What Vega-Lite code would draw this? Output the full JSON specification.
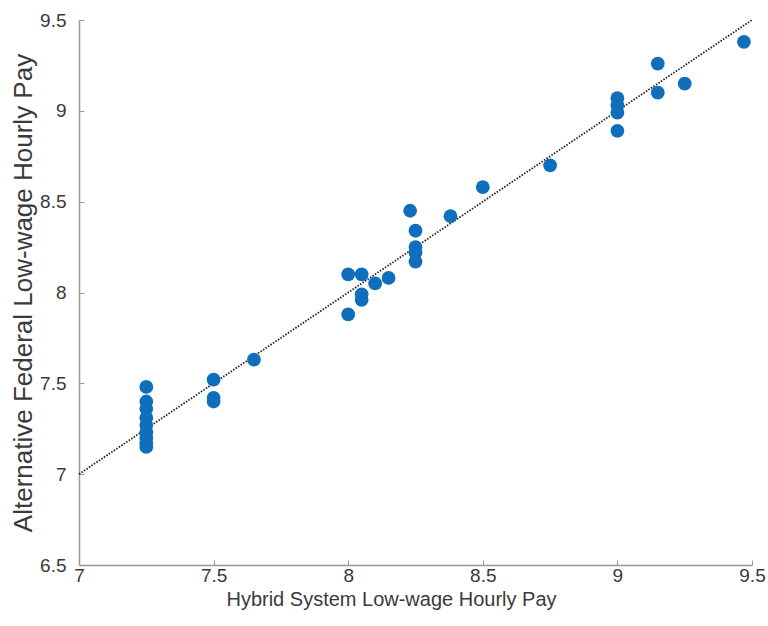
{
  "$schema": "https://vega.github.io/schema/vega-lite/v6.json",
  "width": 673,
  "height": 545,
  "autosize": "none",
  "padding": {"left": 79, "top": 20, "right": 16, "bottom": 61},
  "background": "white",
  "config": {
    "view": {"stroke": null},
    "font": "Liberation Sans",
    "axis": {
      "grid": false,
      "domainColor": "#999999",
      "domainWidth": 1.5,
      "tickColor": "#999999",
      "tickSize": -5,
      "labelColor": "#3a3a3a",
      "labelFontSize": 19,
      "titleColor": "#3a3a3a",
      "titleFontWeight": "normal"
    }
  },
  "datasets": {
    "pts": [
      {"h": 7.25, "a": 7.48}, {"h": 7.25, "a": 7.40}, {"h": 7.25, "a": 7.36},
      {"h": 7.25, "a": 7.31}, {"h": 7.25, "a": 7.27}, {"h": 7.25, "a": 7.23},
      {"h": 7.25, "a": 7.20}, {"h": 7.25, "a": 7.17}, {"h": 7.25, "a": 7.15},
      {"h": 7.5, "a": 7.52}, {"h": 7.5, "a": 7.42}, {"h": 7.5, "a": 7.40},
      {"h": 7.65, "a": 7.63},
      {"h": 8.0, "a": 8.10}, {"h": 8.0, "a": 7.88},
      {"h": 8.05, "a": 8.10}, {"h": 8.05, "a": 7.99}, {"h": 8.05, "a": 7.96},
      {"h": 8.1, "a": 8.05}, {"h": 8.15, "a": 8.08},
      {"h": 8.23, "a": 8.45},
      {"h": 8.25, "a": 8.34}, {"h": 8.25, "a": 8.25}, {"h": 8.25, "a": 8.22}, {"h": 8.25, "a": 8.17},
      {"h": 8.38, "a": 8.42},
      {"h": 8.5, "a": 8.58},
      {"h": 8.75, "a": 8.70},
      {"h": 9.0, "a": 9.07}, {"h": 9.0, "a": 9.03}, {"h": 9.0, "a": 8.99}, {"h": 9.0, "a": 8.89},
      {"h": 9.15, "a": 9.26}, {"h": 9.15, "a": 9.10},
      {"h": 9.25, "a": 9.15},
      {"h": 9.47, "a": 9.38}
    ],
    "diag": [{"h": 7, "a": 7}, {"h": 9.5, "a": 9.5}]
  },
  "layer": [
    {
      "data": {"name": "diag"},
      "mark": {"type": "line", "color": "#222222", "strokeDash": [1.5, 1.5], "strokeWidth": 1.8},
      "encoding": {
        "x": {"field": "h", "type": "quantitative"},
        "y": {"field": "a", "type": "quantitative"}
      }
    },
    {
      "data": {"name": "pts"},
      "mark": {"type": "circle", "color": "#0f6fbd", "opacity": 1, "size": 190},
      "encoding": {
        "x": {
          "field": "h", "type": "quantitative",
          "scale": {"domain": [7, 9.5], "nice": false, "zero": false},
          "axis": {"title": "Hybrid System Low-wage Hourly Pay", "format": "~g", "values": [7, 7.5, 8, 8.5, 9, 9.5], "labelPadding": 6, "titlePadding": 4, "titleFontSize": 20, "titleX": 312, "titleAlign": "center", "labelFlush": false}
        },
        "y": {
          "field": "a", "type": "quantitative",
          "scale": {"domain": [6.5, 9.5], "nice": false, "zero": false},
          "axis": {"title": "Alternative Federal Low-wage Hourly Pay", "format": "~g", "values": [6.5, 7, 7.5, 8, 8.5, 9, 9.5], "labelPadding": 18, "titlePadding": 3, "titleFontSize": 26}
        }
      }
    }
  ]
}
